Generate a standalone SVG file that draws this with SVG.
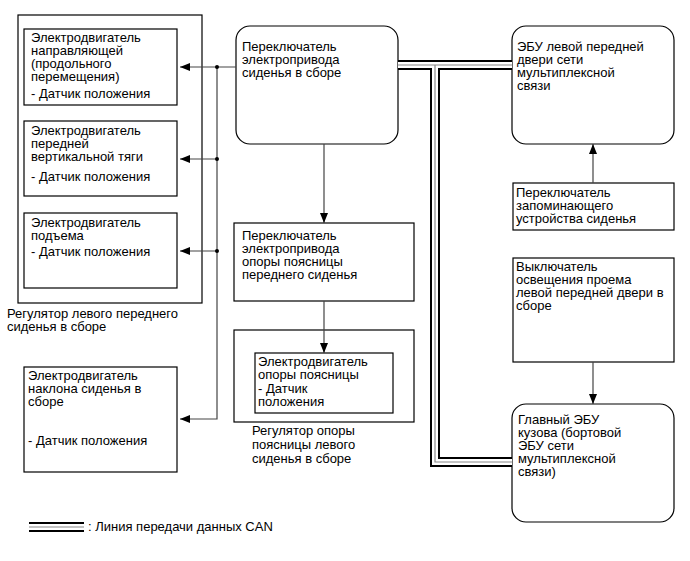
<svg xmlns="http://www.w3.org/2000/svg" width="690" height="561" viewBox="0 0 690 561">
<style>
text{font-family:"Liberation Sans",Arial,sans-serif;font-size:13px;fill:#000}
.box{fill:#fff;stroke:#000;stroke-width:1.2}
.grp{fill:none;stroke:#000;stroke-width:1.2}
.ln{fill:none;stroke:#444;stroke-width:1.2}
.canb{fill:none;stroke:#000;stroke-width:10;stroke-linejoin:miter}
.canw{fill:none;stroke:#fff;stroke-width:6;stroke-linejoin:miter}
.cang{fill:none;stroke:#888;stroke-width:1.2;stroke-linejoin:miter}
</style>
<defs>
<marker id="ah" viewBox="0 0 10 8" refX="10" refY="4" markerWidth="10" markerHeight="8" markerUnits="userSpaceOnUse" orient="auto">
<path d="M0,0 L10,4 L0,8 Z" fill="#000"/>
</marker>
</defs>
<rect x="0" y="0" width="690" height="561" fill="#fff"/>

<g id="seat-adjuster-group">
<rect class="grp" x="18" y="15" width="184" height="288"/>
<text x="7" y="318">Регулятор левого переднего</text>
<text x="7" y="331">сиденья в сборе</text>
</g>

<g id="slide-motor">
<rect class="box" x="24" y="29" width="153" height="76"/>
<text x="31" y="42">Электродвигатель</text>
<text x="31" y="55">направляющей</text>
<text x="31" y="68">(продольного</text>
<text x="31" y="81">перемещения)</text>
<text x="31" y="98">- Датчик положения</text>
</g>

<g id="front-vertical-motor">
<rect class="box" x="24" y="121" width="153" height="75"/>
<text x="31" y="135">Электродвигатель</text>
<text x="31" y="148">передней</text>
<text x="31" y="161">вертикальной тяги</text>
<text x="31" y="181">- Датчик положения</text>
</g>

<g id="lifter-motor">
<rect class="box" x="24" y="213" width="153" height="75"/>
<text x="31" y="227">Электродвигатель</text>
<text x="31" y="240">подъема</text>
<text x="31" y="256">- Датчик положения</text>
</g>

<g id="recline-motor">
<rect class="box" x="24" y="367" width="153" height="105"/>
<text x="28" y="380">Электродвигатель</text>
<text x="28" y="393">наклона сиденья в</text>
<text x="28" y="406">сборе</text>
<text x="28" y="445">- Датчик положения</text>
</g>

<g id="seat-switch">
<rect class="box" x="236" y="26" width="162" height="118" rx="14" ry="14"/>
<text x="242" y="51">Переключатель</text>
<text x="242" y="64">электропривода</text>
<text x="242" y="77">сиденья в сборе</text>
</g>

<g id="lumbar-switch">
<rect class="box" x="234" y="223" width="180" height="78"/>
<text x="242" y="240">Переключатель</text>
<text x="242" y="253">электропривода</text>
<text x="242" y="266">опоры поясницы</text>
<text x="242" y="279">переднего сиденья</text>
</g>

<g id="lumbar-adjuster">
<rect class="grp" x="234" y="330" width="180" height="92"/>
<rect class="box" x="255" y="353" width="138" height="60"/>
<text x="258" y="366">Электродвигатель</text>
<text x="258" y="379">опоры поясницы</text>
<text x="258" y="393">- Датчик</text>
<text x="258" y="406">положения</text>
<text x="252" y="435">Регулятор опоры</text>
<text x="252" y="449">поясницы левого</text>
<text x="252" y="463">сиденья в сборе</text>
</g>

<g id="door-ecu">
<rect class="box" x="512" y="26" width="162" height="118" rx="14" ry="14"/>
<text x="517" y="51">ЭБУ левой передней</text>
<text x="517" y="64">двери сети</text>
<text x="517" y="77">мультиплексной</text>
<text x="517" y="90">связи</text>
</g>

<g id="memory-switch">
<rect class="box" x="513" y="183" width="161" height="47"/>
<text x="516" y="197">Переключатель</text>
<text x="516" y="210">запоминающего</text>
<text x="516" y="223">устройства сиденья</text>
</g>

<g id="courtesy-switch">
<rect class="box" x="513" y="258" width="161" height="104"/>
<text x="516" y="271">Выключатель</text>
<text x="516" y="284">освещения проема</text>
<text x="516" y="297">левой передней двери в</text>
<text x="516" y="310">сборе</text>
</g>

<g id="main-body-ecu">
<rect class="box" x="512" y="404" width="162" height="118" rx="14" ry="14"/>
<text x="518" y="424">Главный ЭБУ</text>
<text x="518" y="437">кузова (бортовой</text>
<text x="518" y="450">ЭБУ сети</text>
<text x="518" y="463">мультиплексной</text>
<text x="518" y="476">связи)</text>
</g>

<g id="connectors">
<path class="ln" d="M236,67 H180" marker-end="url(#ah)"/>
<path class="ln" d="M217,67 V419 H180" marker-end="url(#ah)"/>
<path class="ln" d="M217,159 H180" marker-end="url(#ah)"/>
<path class="ln" d="M217,251 H180" marker-end="url(#ah)"/>
<circle cx="217" cy="67" r="2" fill="#000"/>
<circle cx="217" cy="159" r="2" fill="#000"/>
<circle cx="217" cy="251" r="2" fill="#000"/>
<path class="ln" d="M324,144 V223" marker-end="url(#ah)"/>
<path class="ln" d="M324,301 V353" marker-end="url(#ah)"/>
<path class="ln" d="M593,183 V144" marker-end="url(#ah)"/>
<path class="ln" d="M593,362 V404" marker-end="url(#ah)"/>
<path class="canb" d="M398,65 H512"/>
<path class="canb" d="M435,65 V462 H512"/>
<path class="canw" d="M398,65 H512"/>
<path class="canw" d="M435,65 V462 H512"/>
<path class="cang" d="M398,65 H512"/>
<path class="cang" d="M435,65 V462 H512"/>
</g>

<g id="legend">
<path class="canb" d="M29,527 H84"/>
<path class="canw" d="M29,527 H84"/>
<path class="cang" d="M29,527 H84"/>
<text x="88" y="531">: Линия передачи данных CAN</text>
</g>
</svg>
